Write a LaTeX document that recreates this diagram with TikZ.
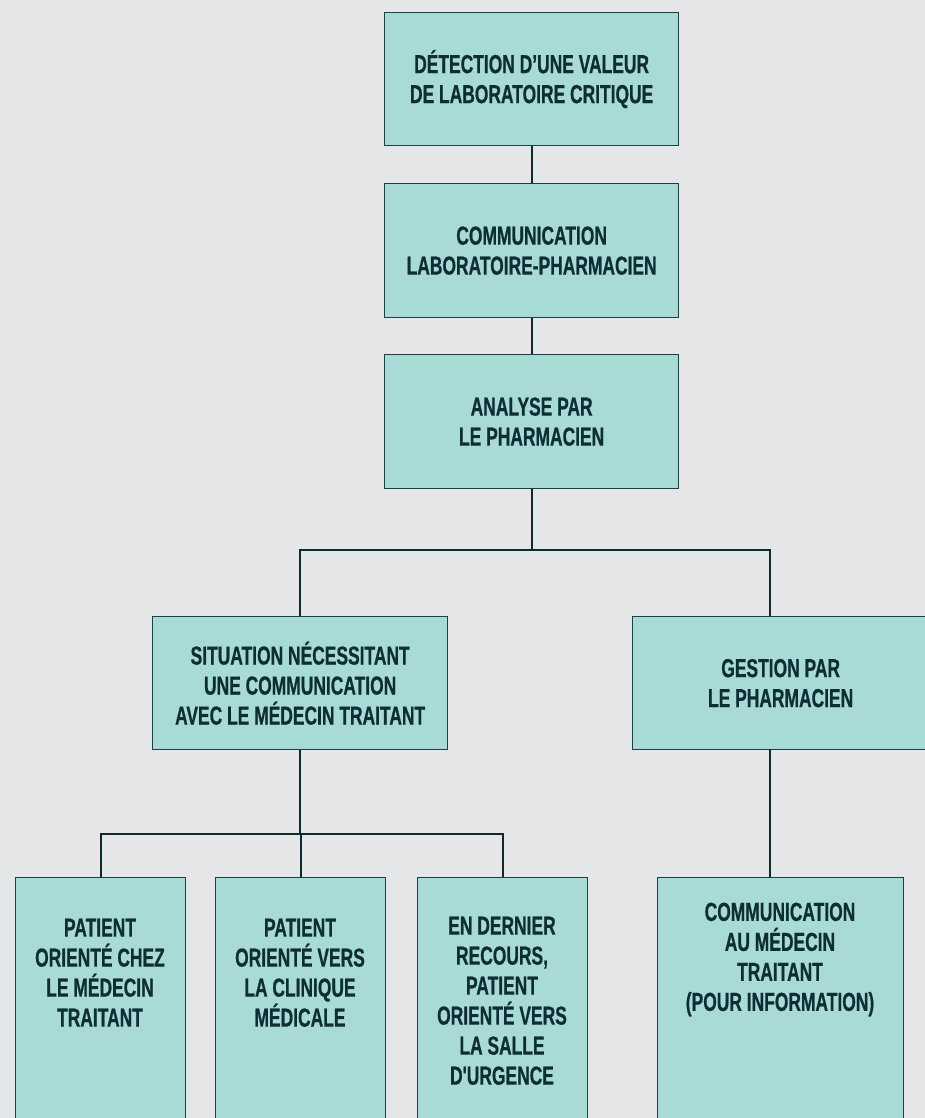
\documentclass[tikz,border=0pt]{standalone}
\usepackage{fontspec}
\newfontfamily\lbl{Liberation Sans}[FakeStretch=0.67,FakeBold=0.6]
\definecolor{bg}{HTML}{E5E6E8}
\definecolor{boxfill}{HTML}{A8DBD5}
\definecolor{boxline}{HTML}{1F3F45}
\definecolor{ink}{HTML}{0F2D35}
\definecolor{connline}{HTML}{0E2A31}
\begin{document}
\begin{tikzpicture}[x=1pt,y=-1pt,
  box/.style={draw=boxline, line width=1.3pt, fill=boxfill, inner sep=0pt, anchor=north west},
  lbltxt/.style={text=ink, align=center, inner sep=0pt, font=\lbl\bfseries\fontsize{26}{30}\selectfont},
  conn/.style={draw=connline, line width=2pt}]
\fill[bg] (0,0) rectangle (925,1118);
\useasboundingbox (0,0) rectangle (925,1118);
% top chain
\node[box, lbltxt, minimum width=294pt, minimum height=133pt] (b1) at (384,12)
  {DÉTECTION D’UNE VALEUR\\DE LABORATOIRE CRITIQUE};
\node[box, lbltxt, minimum width=294pt, minimum height=134pt] (b2) at (384,183)
  {COMMUNICATION\\LABORATOIRE-PHARMACIEN};
\node[box, lbltxt, minimum width=294pt, minimum height=134pt] (b3) at (384,354)
  {ANALYSE PAR\\LE PHARMACIEN};
% second level
\node[box, lbltxt, minimum width=295pt, minimum height=133pt] (b4) at (152,616)
  {SITUATION NÉCESSITANT\\UNE COMMUNICATION\\AVEC LE MÉDECIN TRAITANT};
\node[box, lbltxt, minimum width=296pt, minimum height=133pt] (b5) at (632,616)
  {GESTION PAR\\LE PHARMACIEN};
% bottom level
\node[box, minimum width=170pt, minimum height=245pt] (b6) at (15,877) {};
\node[box, minimum width=170pt, minimum height=245pt] (b7) at (215,877) {};
\node[box, minimum width=170pt, minimum height=245pt] (b8) at (417,877) {};
\node[box, minimum width=246pt, minimum height=245pt] (b9) at (657,877) {};
\node[lbltxt, anchor=north] (t6) at (100,918.5) {PATIENT\\ORIENTÉ CHEZ\\LE MÉDECIN\\TRAITANT};
\node[lbltxt, anchor=north] (t7) at (300,918.5) {PATIENT\\ORIENTÉ VERS\\LA CLINIQUE\\MÉDICALE};
\node[lbltxt, anchor=north] (t8) at (502,916.5) {EN DERNIER\\RECOURS,\\PATIENT\\ORIENTÉ VERS\\LA SALLE\\D'URGENCE};
\node[lbltxt, anchor=north] (t9) at (780,902.5) {COMMUNICATION\\AU MÉDECIN\\TRAITANT\\(POUR INFORMATION)};
% connectors
\coordinate (r1) at (770,616);
\coordinate (r2) at (770,749);
\draw[conn] (b1.south) -- (b2.north);
\draw[conn] (b2.south) -- (b3.north);
\draw[conn] (b3.south) -- ++(0,61) coordinate (j1);
\draw[conn] (b4.north) |- (j1) -| (r1);
\draw[conn] (b4.south) -- ++(0,84) coordinate (j2);
\draw[conn] (b6.north) |- (j2) -| (b8.north);
\draw[conn] (b7.north) -- (b7.north |- j2);
\draw[conn] (r2) -- (r2 |- b9.north);
\end{tikzpicture}
\end{document}
